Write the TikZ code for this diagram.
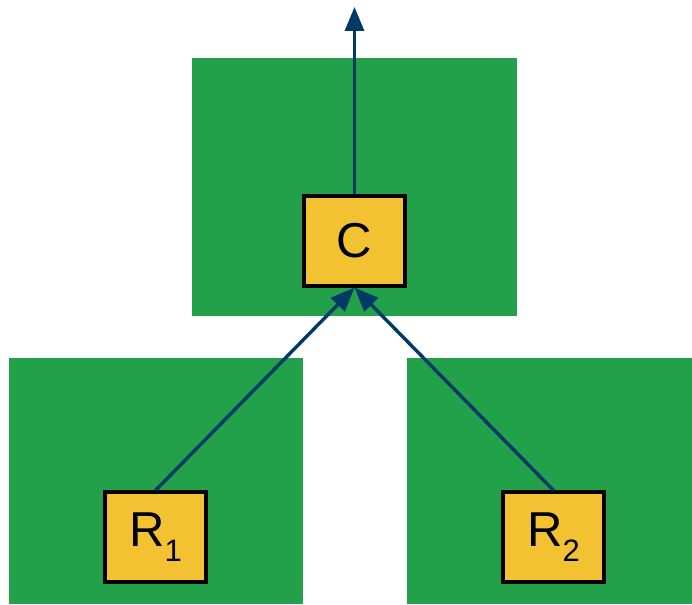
\documentclass[tikz,border=0pt]{standalone}
\usepackage{fontspec}
\setmainfont{Liberation Sans}
\usetikzlibrary{arrows.meta}
\definecolor{regiongreen}{HTML}{23A04A}
\definecolor{boxyellow}{HTML}{F2C232}
\definecolor{linkblue}{HTML}{003A66}
\newcommand{\lowidx}[1]{\raisebox{-15pt}{\fontsize{31}{34}\selectfont #1}}
\tikzset{
  region/.style={fill=regiongreen, draw=none},
  unitbox/.style={draw=black, line width=3.2pt, fill=boxyellow, minimum width=101pt,
    minimum height=90pt, inner sep=0pt, font=\fontsize{49}{56}\selectfont},
  link/.style={draw=linkblue, line width=3.4pt,
    -{Triangle[length=24pt,width=19pt]}}
}
\begin{document}
\begin{tikzpicture}[x=1pt,y=-1pt]
  \useasboundingbox (0,0) rectangle (692,604);
  % regions
  \fill[region] (192,58) rectangle (517,316);
  \fill[region] (9,358) rectangle (303,604);
  \fill[region] (407,358) rectangle (692,604);
  % units
  \node[unitbox] (c) at (354.5,241) {C};
  \node[unitbox] (r1) at (155.5,537) {R\lowidx{1}};
  \node[unitbox] (r2) at (553.5,537) {R\lowidx{2}};
  \coordinate (out) at (354.5,7);
  % links
  \draw[link] (c.north) -- (out);
  \draw[link] (r1.north) -- (c.south);
  \draw[link] (r2.north) -- (c.south);
\end{tikzpicture}
\end{document}
